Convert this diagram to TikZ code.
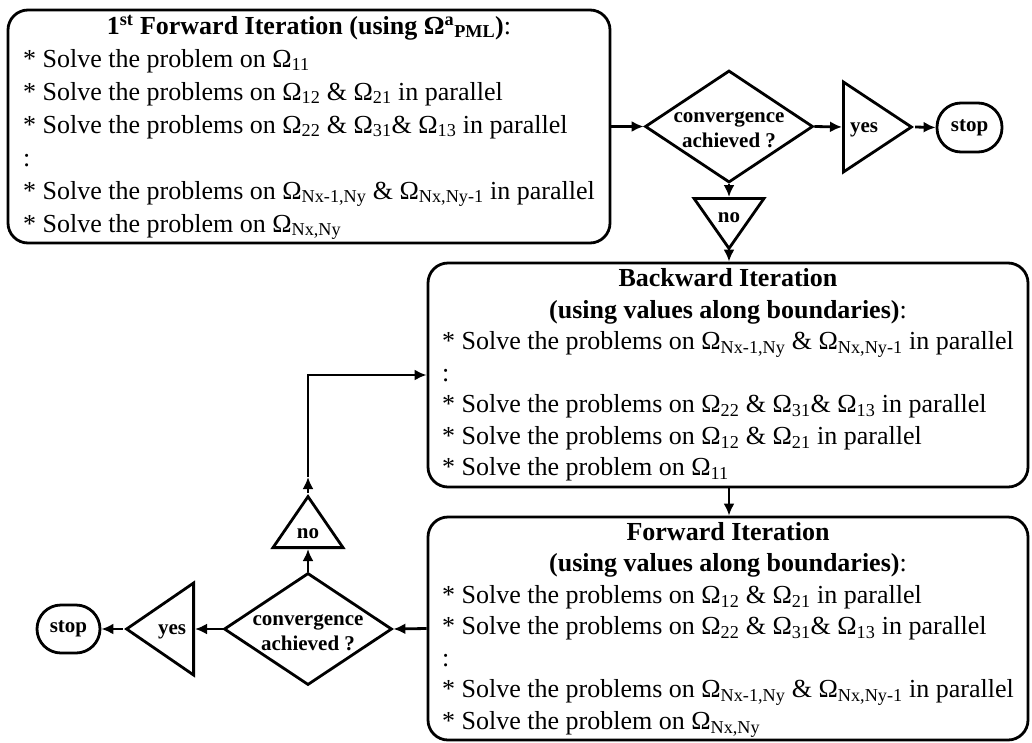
\documentclass[tikz,border=0pt]{standalone}
\usepackage{fontspec}
\setmainfont{Liberation Serif}
\usetikzlibrary{shapes.geometric,arrows.meta}
\newcommand{\Om}[1]{Ω\textsubscript{#1}}
\newcommand{\boxfont}{\fontsize{26}{31.5}\selectfont}
\newcommand{\boxfontA}{\fontsize{26}{33}\selectfont}
\newcommand{\decfont}{\fontsize{21}{25}\selectfont\bfseries}
\newcommand{\ctitle}[1]{\multicolumn{1}{@{}c@{}}{#1}}
\newcommand{\st}{{*} }
\newcommand{\convtext}{\makebox[0pt]{\smash{\lower9pt\hbox{\begin{tabular}{@{}c@{}}convergence\\achieved ?\end{tabular}}}}}
\begin{document}
\begin{tikzpicture}[x=1pt,y=-1pt,
  lw/.style={line width=2.8pt},
  procbox/.style={lw, draw, rounded corners=20pt, inner sep=0pt, minimum width=600pt, font=\boxfont},
  decision/.style={lw, draw, diamond, inner sep=0pt, minimum width=168pt, minimum height=112pt, font=\decfont},
  answer/.style={lw, draw, isosceles triangle, isosceles triangle stretches, inner sep=0pt},
  anstext/.style={font=\decfont, inner sep=0pt, anchor=base},
  endbox/.style={lw, draw, rounded corners=24pt, inner sep=0pt, minimum width=65pt, minimum height=49pt, font=\decfont},
  arr/.style={lw, -{Latex[length=12pt,width=11pt]}},
]
\useasboundingbox (0,0) rectangle (1032,742);

% first forward iteration
\node[procbox, font=\boxfontA, minimum width=602pt, minimum height=233pt] (box1) at (309,126.5) {%
\begin{tabular}{@{}l@{}}
\ctitle{\textbf{1\textsuperscript{st} Forward Iteration (using Ω\textsuperscript{a}\textsubscript{PML})}:}\\
\st Solve the problem on \Om{11}\\
\st Solve the problems on \Om{12} \& \Om{21} in parallel\\
\st Solve the problems on \Om{22} \& \Om{31}\& \Om{13} in parallel\\
:\\
\st Solve the problems on \Om{Nx-1,Ny} \& \Om{Nx,Ny-1} in parallel\\
\st Solve the problem on \Om{Nx,Ny}
\end{tabular}};

\node[decision] (dia1) at (729,126.5) {\convtext};
\node[answer, minimum height=68pt, minimum width=90pt, anchor=lower side] (yes1) at (842,127) {};
\node[anstext] (yes1t) at (864,132) {yes};
\node[endbox] (stop1) at (969.5,127.5) {stop};
\node[answer, shape border rotate=270, minimum height=50pt, minimum width=70pt, anchor=lower side] (no1) at (729,197) {};
\node[anstext] (no1t) at (729,222) {no};

% backward iteration
\node[procbox, minimum height=224pt] (box2) at (728,375) {%
\begin{tabular}{@{}l@{}}
\ctitle{\textbf{Backward Iteration}}\\
\ctitle{\textbf{(using values along boundaries)}:}\\
\st Solve the problems on \Om{Nx-1,Ny} \& \Om{Nx,Ny-1} in parallel\\
:\\
\st Solve the problems on \Om{22} \& \Om{31}\& \Om{13} in parallel\\
\st Solve the problems on \Om{12} \& \Om{21} in parallel\\
\st Solve the problem on \Om{11}
\end{tabular}};

% forward iteration
\node[procbox, minimum height=223pt] (box3) at (728,628.5) {%
\begin{tabular}{@{}l@{}}
\ctitle{\textbf{Forward Iteration}}\\
\ctitle{\textbf{(using values along boundaries)}:}\\
\st Solve the problems on \Om{12} \& \Om{21} in parallel\\
\st Solve the problems on \Om{22} \& \Om{31}\& \Om{13} in parallel\\
:\\
\st Solve the problems on \Om{Nx-1,Ny} \& \Om{Nx,Ny-1} in parallel\\
\st Solve the problem on \Om{Nx,Ny}
\end{tabular}};

\node[decision] (dia2) at (308,629) {\convtext};
\node[answer, shape border rotate=180, minimum height=67pt, minimum width=92pt, anchor=lower side] (yes2) at (195,629) {};
\node[anstext] (yes2t) at (172,634) {yes};
\node[endbox, minimum width=63pt, minimum height=48pt] (stop2) at (68.5,629) {stop};
\node[answer, shape border rotate=90, minimum height=51pt, minimum width=70pt, anchor=lower side] (no2) at (308,549) {};
\node[anstext] (no2t) at (308,538) {no};
\coordinate (c1) at (308,477);

% connectors
\draw[arr] (box1.east) -- (dia1.west);
\draw[arr] (dia1.east) -- (yes1.lower side);
\draw[arr] (yes1.apex) -- (stop1.west);
\draw[arr] (dia1.south) -- (no1.lower side);
\draw[arr] (no1.apex) -- (box2.north -| no1.apex);
\draw[arr] (box2.south -| no1.apex) -- (box3.north -| no1.apex);
\draw[arr] (box3.west) -- (dia2.east);
\draw[arr] (dia2.west) -- (yes2.lower side);
\draw[arr] (yes2.apex) -- (stop2.east);
\draw[arr] (dia2.north) -- (no2.lower side);
\draw[arr] (no2.apex) -- (c1);
\draw[arr] (c1) |- (box2.west);
\end{tikzpicture}
\end{document}
